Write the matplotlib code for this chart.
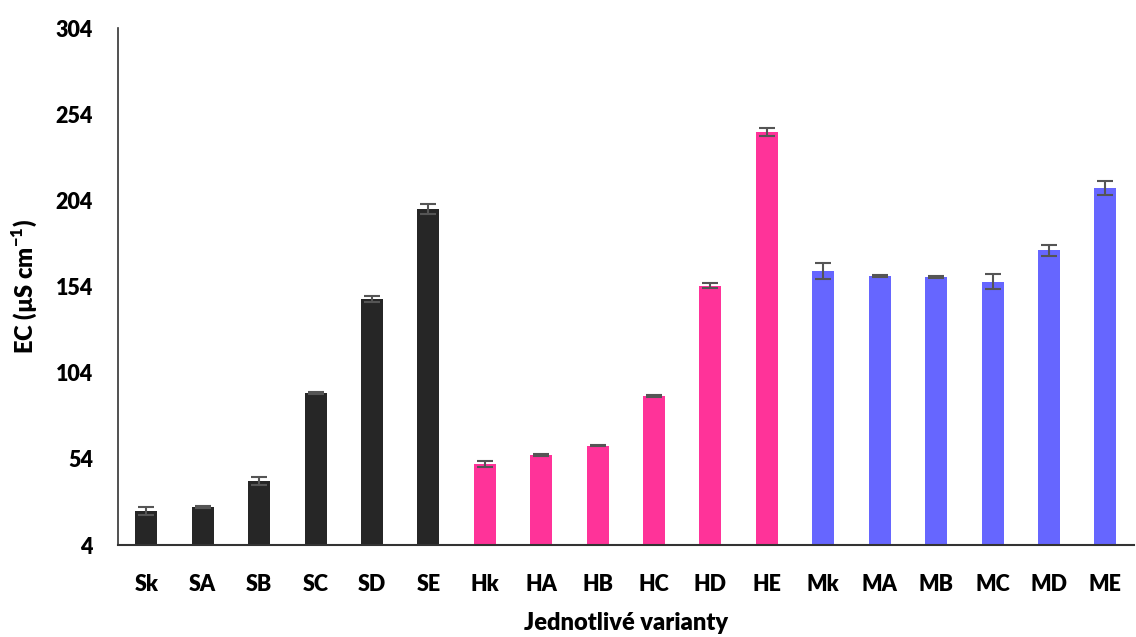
import numpy as np
import matplotlib
matplotlib.use("Agg")
import matplotlib.pyplot as plt

# EC values
labels = ["Sk", "SA", "SB", "SC", "SD", "SE",
          "Hk", "HA", "HB", "HC", "HD", "HE",
          "Mk", "MA", "MB", "MC", "MD", "ME"]
ecValues = [23.7, 26.2, 41.3, 92.4, 146.6, 199.0,
            50.8, 56.4, 61.6, 90.6, 154.5, 243.8,
            163.0, 160.3, 159.4, 156.9, 175.0, 211.0]
ecErrors = [2.4, 0.5, 2.4, 0.5, 1.7, 3.0,
            1.8, 0.5, 0.3, 0.6, 1.6, 2.4,
            4.6, 0.5, 0.5, 4.4, 3.1, 4.0]
groupColors = ["#262626"] * 6 + ["#FF3399"] * 6 + ["#6666FF"] * 6
yTicks = [4, 54, 104, 154, 204, 254, 304]

plt.rcParams['font.family'] = ['Lato', 'DejaVu Sans']
plt.rcParams['mathtext.fontset'] = 'custom'
plt.rcParams['mathtext.bf'] = 'Lato:heavy'

fig = plt.figure(figsize=(11.36, 6.37), dpi=100)
ax = fig.add_axes([0.1039, 0.1444, 0.894, 0.8116])

x = np.arange(len(labels))
ax.bar(x, np.array(ecValues) - 4, bottom=4, width=0.39, color=groupColors,
       yerr=ecErrors, error_kw=dict(ecolor="#555555", elinewidth=1.5,
                                    capsize=6, capthick=1.5))

ax.set_xlim(-0.5, 17.5)
ax.set_ylim(4, 304)
ax.set_yticks(yTicks)
ax.set_xticks(x)
ax.set_xticklabels(labels)
ax.tick_params(axis='both', length=0, labelsize=15.5)
ax.tick_params(axis='y', pad=18)
ax.tick_params(axis='x', pad=21)
for lbl in ax.get_xticklabels() + ax.get_yticklabels():
    lbl.set_fontweight('heavy')

for side in ['top', 'right']:
    ax.spines[side].set_visible(False)
ax.spines['left'].set_color('#333333')
ax.spines['bottom'].set_color('#333333')
ax.spines['left'].set_linewidth(1.2)
ax.spines['bottom'].set_linewidth(1.5)

ax.set_ylabel(r"EC (µS cm$^{\mathbf{-1}}$)", fontsize=17, fontweight='heavy', labelpad=12)
ax.set_xlabel("Jednotlivé varianty", fontsize=17, fontweight='heavy', labelpad=12)

fig.savefig("out.png", dpi=100)
